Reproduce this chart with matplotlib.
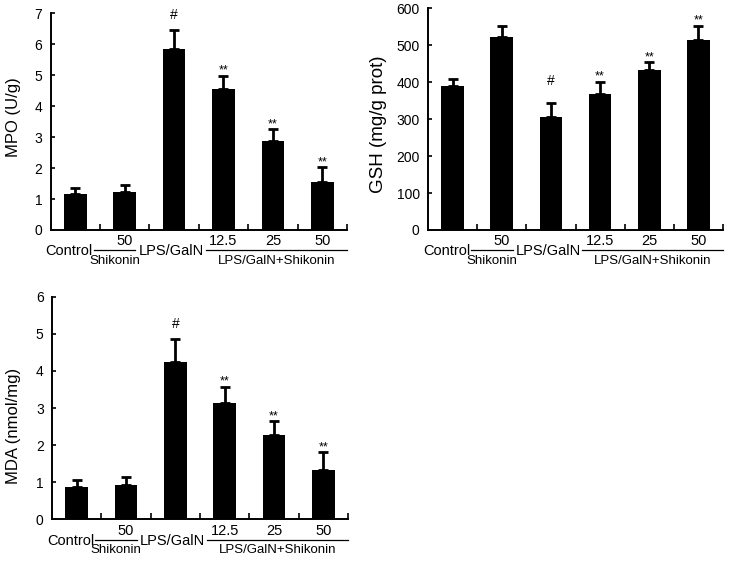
import numpy as np
import matplotlib
matplotlib.use("Agg")
import matplotlib.pyplot as plt
from matplotlib.transforms import ScaledTranslation
from matplotlib.lines import Line2D

plt.rcParams['font.family'] = ['Liberation Sans', 'DejaVu Sans']

# ---------------- data ----------------
dose_labels = ["", "50", "", "12.5", "25", "50"]
plain_labels = ["Control", "", "LPS/GalN", "", "", ""]
group_names = ["Shikonin", "LPS/GalN+Shikonin"]

mpo_mean = [1.16, 1.24, 5.84, 4.55, 2.88, 1.54]
mpo_err = [0.20, 0.22, 0.63, 0.43, 0.38, 0.49]
mpo_sig = ["", "", "#", "**", "**", "**"]

gsh_mean = [391, 523, 305, 369, 434, 513]
gsh_err = [18, 30, 38, 32, 20, 40]
gsh_sig = ["", "", "#", "**", "**", "**"]

mda_mean = [0.86, 0.93, 4.23, 3.14, 2.26, 1.32]
mda_err = [0.19, 0.21, 0.62, 0.43, 0.39, 0.49]
mda_sig = ["", "", "#", "**", "**", "**"]

W, H = 731, 561
fig = plt.figure(figsize=(W / 100, H / 100), dpi=100)


def px_axes(l, r, t, b):
    return fig.add_axes([l / W, 1 - b / H, (r - l) / W, (b - t) / H])


def panel(ax, mean, err, sig, ylabel, ymax, ystep, ylabel_xy, ylabel_size, hash_off):
    n = len(mean)
    x = np.arange(n)
    ax.bar(x, mean, width=0.46, color='black', zorder=2)
    ax.errorbar(x, mean, yerr=[np.zeros(n), err], fmt='none', ecolor='black',
                elinewidth=2.0, capsize=3.8, capthick=2.0, zorder=3)
    ax.set_xlim(-0.5, n - 0.5)
    ax.set_ylim(0, ymax)
    ticks = np.arange(0, ymax + ystep / 2, ystep)
    ax.set_yticks(ticks)
    ax.set_yticklabels([f"{v:g}" for v in ticks], fontsize=10)
    ax.set_xticks(np.arange(0.5, n, 1.0))
    ax.set_xticklabels([])
    ax.tick_params(axis='y', direction='in', length=3, width=1.2, pad=6)
    ax.tick_params(axis='x', direction='in', length=4, width=1.2)
    for s in ['top', 'right']:
        ax.spines[s].set_visible(False)
    for s in ['left', 'bottom']:
        ax.spines[s].set_linewidth(1.4)
    ax.set_ylabel(ylabel, fontsize=ylabel_size)
    ax.yaxis.set_label_coords(*ylabel_xy)

    # significance marks
    for xi, m, e, s in zip(x, mean, err, sig):
        if not s:
            continue
        off = hash_off if s == "#" else 2
        fs = 10 if s == "#" else 9
        ax.annotate(s, (xi, m + e), xytext=(0, off * 0.72), textcoords='offset points',
                    ha='center', va='baseline', fontsize=fs)

    # category labels below the axis
    base = ax.get_xaxis_transform()

    def tr(dy_px):
        return base + ScaledTranslation(0, -dy_px / 100, fig.dpi_scale_trans)

    for xi, d in zip(x, dose_labels):
        if d:
            ax.text(xi, 0, d, transform=tr(11.5), ha='center', va='center', fontsize=10.5, clip_on=False)
    ax.text(0.36, 0, plain_labels[0], transform=tr(21.5), ha='right', va='center', fontsize=10.5)
    ax.text(1.94, 0, plain_labels[2], transform=tr(21.5), ha='center', va='center', fontsize=10.5)
    for (x0, x1), g in zip([(0.38, 1.22), (2.64, 5.5)], group_names):
        ax.add_line(Line2D([x0, x1], [0, 0], transform=tr(20.5), color='black',
                           lw=0.9, clip_on=False))
        ax.text((x0 + x1) / 2, 0, g, transform=tr(31), ha='center', va='center', fontsize=9.5)


ax1 = px_axes(50.5, 347, 13.3, 230)
panel(ax1, mpo_mean, mpo_err, mpo_sig, "MPO (U/g)", 7, 1, (-0.10, 0.52), 12, 11)

ax2 = px_axes(428, 723, 8.3, 230)
panel(ax2, gsh_mean, gsh_err, gsh_sig, "GSH (mg/g prot)", 600, 100, (-0.138, 0.475), 13.5, 18)

ax3 = px_axes(52, 348, 296.7, 519.3)
panel(ax3, mda_mean, mda_err, mda_sig, "MDA (nmol/mg)", 6, 1, (-0.105, 0.42), 12, 11)

fig.savefig("out.png", dpi=100)
